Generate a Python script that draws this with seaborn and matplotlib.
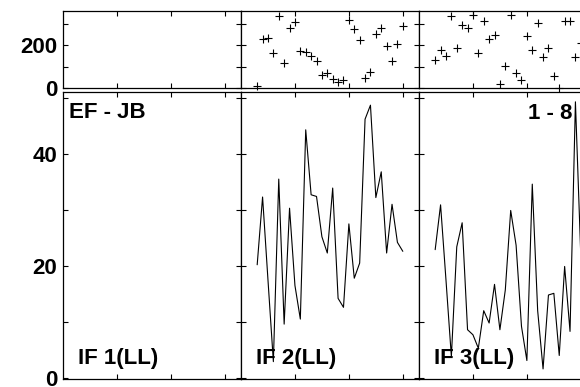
import matplotlib
matplotlib.use("Agg")
import numpy as np
import pandas as pd
import matplotlib.pyplot as plt
import seaborn as sns

# sample index along the scan (same for every panel)
t_idx = list(range(3, 31))

# IF 2 : phase (deg) and amplitude
phase_if2 = [11, 232, 236, 166, 339, 120, 283, 308, 176, 170, 152, 129, 61, 73,
             45, 31, 39, 319, 279, 224, 50, 76, 252, 283, 198, 128, 206, 293]
amp_if2 = [20.2, 32.3, 17.5, 2.9, 35.5, 9.6, 30.3, 16.5, 10.5, 44.3, 32.7, 32.4, 25.2, 22.3,
           33.9, 14.2, 12.6, 27.5, 17.8, 20.5, 46.2, 48.7, 32.2, 36.8, 22.3, 31.0, 24.2, 22.6]

# IF 3 : phase (deg) and amplitude
phase_if3 = [132, 179, 152, 338, 190, 294, 280, 343, 163, 316, 232, 248, 22, 104,
             341, 70, 37, 244, 179, 303, 145, 190, 59, 3, 314, 314, 148, 210]
amp_if3 = [22.9, 30.9, 17.5, 3.8, 23.4, 27.7, 8.6, 7.7, 5.3, 12.0, 9.8, 16.7, 8.6, 15.7,
           29.9, 23.7, 9.2, 3.1, 34.6, 12.0, 1.6, 14.8, 15.1, 4.0, 19.9, 8.3, 49.3, 21.7]

panel_names = ["IF 1(LL)", "IF 2(LL)", "IF 3(LL)"]
phase_ticks = [0, 100, 200, 300]
phase_labels = ["0", "", "200", ""]
amp_ticks = [0, 10, 20, 30, 40, 50]
amp_labels = ["0", "", "20", "", "40", ""]

data = {
    1: (pd.DataFrame({"t": t_idx, "phase": phase_if2}), pd.DataFrame({"t": t_idx, "amp": amp_if2})),
    2: (pd.DataFrame({"t": t_idx, "phase": phase_if3}), pd.DataFrame({"t": t_idx, "amp": amp_if3})),
}

sns.set_theme(style="ticks")
plt.rcParams["font.family"] = ["Liberation Sans", "DejaVu Sans"]
plt.rcParams["font.weight"] = "bold"
plt.rcParams["text.color"] = "black"
plt.rcParams["ytick.labelcolor"] = "black"
plt.rcParams["ytick.color"] = "black"
plt.rcParams["xtick.color"] = "black"

W, H = 580, 387
fig = plt.figure(figsize=(W / 100, H / 100), dpi=100)

col_left = [63, 241, 419]
col_w = 178
top_box = (11, 88.3)
bot_box = (92.3, 379)


def make_ax(x0, box):
    y0, y1 = box
    return fig.add_axes([x0 / W, 1 - y1 / H, col_w / W, (y1 - y0) / H])


def style(ax, first):
    ax.set_xlim(0, 33)
    ax.set_xticks([10, 20, 30])
    ax.tick_params(direction="in", length=3.8, width=0.8, color="black",
                   labelcolor="black", top=True, right=True, labelbottom=False,
                   labelleft=first, labelsize=16, pad=4)
    for s in ax.spines.values():
        s.set_color("black")
        s.set_linewidth(0.9)
    ax.set_xlabel("")
    ax.set_ylabel("")
    for lab in ax.get_yticklabels():
        lab.set_fontweight("bold")


for i, x0 in enumerate(col_left):
    ax_top = make_ax(x0, top_box)
    ax_bot = make_ax(x0, bot_box)

    if i in data:
        ph, am = data[i]
        sns.scatterplot(data=ph, x="t", y="phase", ax=ax_top, marker="+", s=36,
                        color="black", linewidth=0.8, clip_on=False, legend=False)
        sns.lineplot(data=am, x="t", y="amp", ax=ax_bot, color="black",
                     linewidth=0.8, estimator=None, legend=False)

    ax_top.set_ylim(0, 361)
    ax_top.set_yticks(phase_ticks)
    ax_top.set_yticklabels(phase_labels)
    ax_bot.set_ylim(-0.2, 51.0)
    ax_bot.set_yticks(amp_ticks)
    ax_bot.set_yticklabels(amp_labels)
    style(ax_top, i == 0)
    style(ax_bot, i == 0)

    ax_bot.text(0.082, 0.053, panel_names[i], transform=ax_bot.transAxes,
                fontsize=16, fontweight="bold", color="black", ha="left", va="baseline")
    if i == 0:
        ax_bot.text(0.036, 0.909, "EF - JB", transform=ax_bot.transAxes,
                    fontsize=16, fontweight="bold", color="black", ha="left", va="baseline")
    if i == 2:
        ax_bot.text(0.86, 0.907, "1 - 8", transform=ax_bot.transAxes,
                    fontsize=16, fontweight="bold", color="black", ha="right", va="baseline")

fig.savefig("out.png", dpi=100)
